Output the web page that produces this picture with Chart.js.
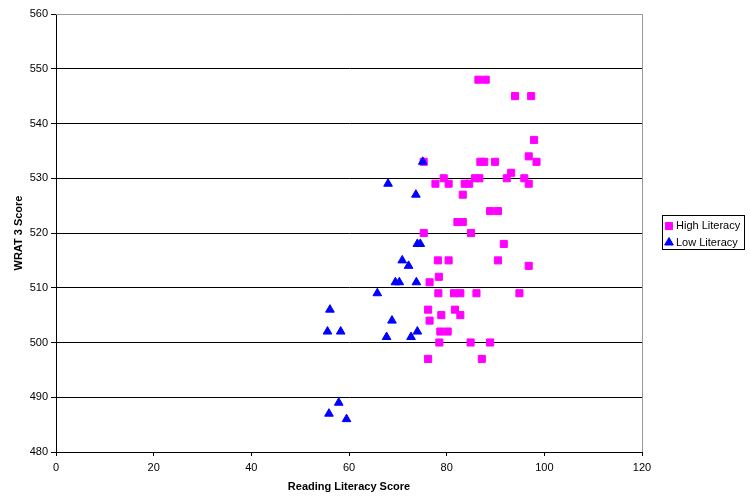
<!DOCTYPE html>
<html>
<head>
<meta charset="utf-8">
<script src="https://cdn.jsdelivr.net/npm/chart.js@4"></script>
<style>
  html, body { margin: 0; padding: 0; background: #fff; }
  #wrap { width: 750px; height: 498px; }
</style>
</head>
<body>
<div id="wrap"><canvas id="chart" width="750" height="498"></canvas></div>
<script>
// Series data
const seriesNames = ['High Literacy', 'Low Literacy'];

const highX = [86.5, 88.0, 94.0, 97.3, 97.9, 96.8, 98.4, 86.9, 87.7, 89.9, 75.3, 93.2, 79.4, 85.8, 86.7,
  92.3, 95.9, 77.7, 80.4, 83.7, 84.6, 96.8, 83.3, 88.9, 90.5, 82.2, 83.3, 75.3, 85.0, 91.7, 78.2, 80.4,
  90.5, 96.8, 78.4, 76.5, 78.3, 81.5, 82.8, 86.1, 94.9, 76.2, 81.7, 78.9, 82.8, 76.5, 78.7, 80.2, 78.5,
  84.9, 88.9, 76.2, 87.2];
const highY = [548, 548, 545, 545, 537, 534, 533, 533, 533, 533, 533, 531, 530, 530, 530,
  530, 530, 529, 529, 529, 529, 529, 527, 524, 524, 522, 522, 520, 520, 518, 515, 515,
  515, 514, 512, 511, 509, 509, 509, 509, 509, 506, 506, 505, 505, 504, 502, 502, 500,
  500, 500, 497, 497];

const lowX = [75.1, 68.0, 73.7, 74.0, 74.6, 70.9, 72.2, 69.5, 70.3, 73.8, 65.8, 56.1, 68.8, 55.6,
  58.3, 74.0, 67.7, 72.7, 57.9, 55.9, 59.5];
const lowY = [533, 529, 527, 518, 518, 515, 514, 511, 511, 511, 509, 506, 504, 502,
  502, 502, 501, 501, 489, 487, 486];

const xMin = 0, xMax = 120, xStep = 20;
const yMin = 480, yMax = 560, yStep = 10;

const pink = '#FF00FF';
const blue = '#0000FF';
const tickFont = { family: 'Liberation Sans, Arial, sans-serif', size: 11 };
const titleFont = { family: 'Liberation Sans, Arial, sans-serif', size: 11, weight: 'bold' };

function toPoints(xs, ys) {
  return xs.map((x, i) => ({ x, y: ys[i] }));
}

// plot border (grey top/right) + hand drawn legend box like the Excel one
const framePlugin = {
  id: 'frame',
  afterDraw(chart) {
    const { ctx, chartArea: a } = chart;
    ctx.save();
    ctx.strokeStyle = '#999';
    ctx.lineWidth = 1;
    ctx.beginPath();
    ctx.moveTo(a.left, a.top + 0.5);
    ctx.lineTo(a.right + 0.5, a.top + 0.5);
    ctx.lineTo(a.right + 0.5, a.bottom);
    ctx.stroke();

    // legend
    const lx = 662, ly = 215, lw = 82, lh = 34;
    ctx.fillStyle = '#fff';
    ctx.fillRect(lx, ly, lw, lh);
    ctx.strokeStyle = '#000';
    ctx.strokeRect(lx + 0.5, ly + 0.5, lw, lh);

    const styles = ['rect', 'triangle'];
    const colors = [pink, blue];
    const radii = [5, 5];
    ctx.font = '11px "Liberation Sans", Arial, sans-serif';
    ctx.textBaseline = 'middle';
    seriesNames.forEach((name, i) => {
      const cy = ly + 11 + i * 16.5;
      ctx.fillStyle = colors[i];
      ctx.strokeStyle = colors[i];
      Chart.helpers.drawPoint(ctx, { pointStyle: styles[i], radius: radii[i], borderWidth: 1, rotation: 0 }, lx + 7, cy);
      ctx.fillStyle = '#000';
      ctx.fillText(name, lx + 14, cy);
    });
    ctx.restore();
  }
};

new Chart(document.getElementById('chart'), {
  type: 'scatter',
  data: {
    datasets: [
      {
        label: seriesNames[0],
        data: toPoints(highX, highY),
        pointStyle: 'rect',
        pointRadius: 5,
        pointBorderWidth: 1,
        backgroundColor: pink,
        borderColor: pink,
        order: 1,
      },
      {
        label: seriesNames[1],
        data: toPoints(lowX, lowY),
        pointStyle: 'triangle',
        pointRadius: 5,
        pointBorderWidth: 1,
        backgroundColor: blue,
        borderColor: blue,
        order: 0,
      },
    ],
  },
  options: {
    responsive: false,
    animation: false,
    layout: { padding: { top: 14, right: 108, bottom: 0, left: 0 } },
    plugins: {
      legend: { display: false },
      tooltip: { enabled: false },
    },
    scales: {
      x: {
        type: 'linear',
        min: xMin,
        max: xMax,
        ticks: { stepSize: xStep, color: '#000', font: tickFont, padding: 5, maxRotation: 0 },
        grid: { drawOnChartArea: false, tickLength: 4, color: '#000' },
        border: { color: '#000', width: 1 },
        title: { display: true, text: 'Reading Literacy Score', color: '#000', font: titleFont, padding: { top: 4, bottom: 4 } },
        afterFit(scale) { scale.height = 46; },
      },
      y: {
        type: 'linear',
        min: yMin,
        max: yMax,
        ticks: { stepSize: yStep, color: '#000', font: tickFont, padding: 3 },
        grid: { color: '#000', lineWidth: 1, tickLength: 5 },
        border: { color: '#000', width: 1 },
        title: { display: true, text: 'WRAT 3 Score', color: '#000', font: titleFont, padding: { top: 12, bottom: 4 } },
        afterFit(scale) { scale.width = 56; },
      },
    },
  },
  plugins: [framePlugin],
});
</script>
</body>
</html>
